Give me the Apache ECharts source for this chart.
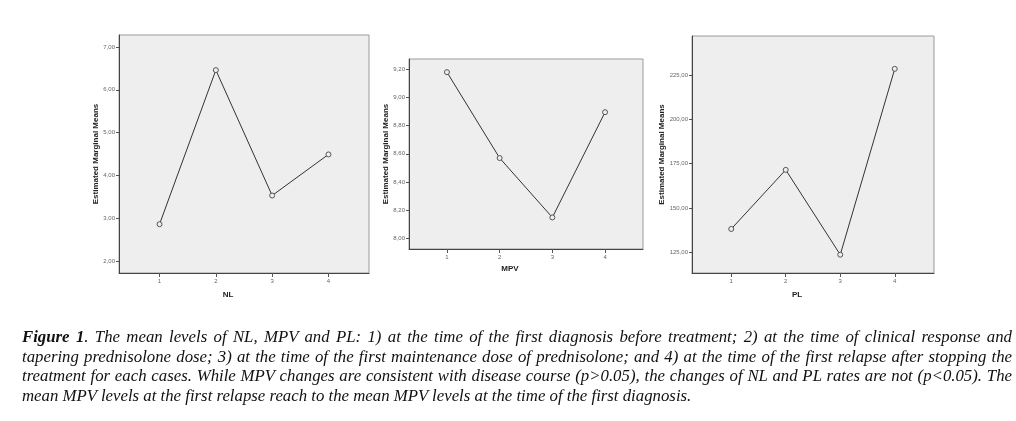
<!DOCTYPE html>
<html>
<head>
<meta charset="utf-8">
<script src="https://cdn.jsdelivr.net/npm/echarts@6/dist/echarts.min.js"></script>
<style>
  html, body { margin: 0; padding: 0; background: #fff; }
  #wrap { position: relative; width: 1016px; height: 421px; overflow: hidden; }
  #chart { position: absolute; left: 0; top: 0; width: 1016px; height: 421px; }
  #caption {
    position: absolute; left: 22px; top: 327px; width: 990px;
    font-family: "Liberation Serif", "DejaVu Serif", serif; font-style: italic;
    font-size: 16.8px; line-height: 19.7px; color: #111;
  }
  #caption .ln { white-space: nowrap; text-align: justify; text-align-last: justify; }
  #caption .last { white-space: nowrap; text-align: left; text-align-last: left; }
  #caption b { font-weight: bold; }
</style>
</head>
<body>
<div id="wrap">
  <div id="chart"></div>
  <div id="caption">
    <div class="ln"><b>Figure 1</b>. The mean levels of NL, MPV and PL: 1) at the time of the first diagnosis before treatment; 2) at the time of clinical response and</div>
    <div class="ln">tapering prednisolone dose; 3) at the time of the first maintenance dose of prednisolone; and 4) at the time of the first relapse after stopping the</div>
    <div class="ln">treatment for each cases. While MPV changes are consistent with disease course (p&gt;0.05), the changes of NL and PL rates are not (p&lt;0.05). The</div>
    <div class="last">mean MPV levels at the first relapse reach to the mean MPV levels at the time of the first diagnosis.</div>
  </div>
</div>
<script>
// ---- data ----
const categories = [1, 2, 3, 4];
const nlValues  = [2.86, 6.46, 3.53, 4.49];
const mpvValues = [9.177, 8.57, 8.15, 8.894];
const plValues  = [138.2, 171.5, 123.7, 228.4];
const nlTicks  = [2, 3, 4, 5, 6, 7];
const mpvTicks = [8.0, 8.2, 8.4, 8.6, 8.8, 9.0, 9.2];
const plTicks  = [125, 150, 175, 200, 225];
const panelNames = ['NL', 'MPV', 'PL'];
const yTitle = 'Estimated Marginal Means';

// ---- layout ----
const grids = [
  { left: 119, top: 35, width: 250, height: 238 },
  { left: 409, top: 59, width: 234, height: 190 },
  { left: 692, top: 36, width: 242, height: 237 }
];
const yRanges = [[1.72, 7.28], [7.927, 9.27], [113.4, 246.9]];
const yGaps = [18, 16, 24];
const xGaps = [18, 16, 18];
const tickSets = [nlTicks, mpvTicks, plTicks];
const valueSets = [nlValues, mpvValues, plValues];

const fmt = v => Number(v).toFixed(2).replace('.', ',');
const font = '"Liberation Sans", Arial, sans-serif';

const option = {
  animation: false,
  backgroundColor: 'transparent',
  grid: grids.map(g => Object.assign({
    show: true, backgroundColor: '#EEEEEE', borderColor: '#9a9a9a', borderWidth: 1,
    containLabel: false
  }, g)),
  xAxis: grids.map((g, i) => ({
    type: 'value', gridIndex: i, min: 0.28, max: 4.72,
    splitLine: { show: false },
    axisLine: { onZero: false, lineStyle: { color: '#444', width: 1 } },
    axisTick: { customValues: categories, length: 4, lineStyle: { color: '#555' } },
    axisLabel: { customValues: categories, margin: 5, fontSize: 6, color: '#666', fontFamily: font },
    name: panelNames[i], nameLocation: 'middle', nameGap: xGaps[i],
    nameTextStyle: { fontSize: 8, fontWeight: 'bold', color: '#222', fontFamily: font, padding: [0, 32, 0, 0] }
  })),
  yAxis: grids.map((g, i) => ({
    type: 'value', gridIndex: i, min: yRanges[i][0], max: yRanges[i][1],
    splitLine: { show: false },
    axisLine: { show: true, onZero: false, lineStyle: { color: '#444', width: 1 } },
    axisTick: { show: true, customValues: tickSets[i], length: 3, lineStyle: { color: '#555' } },
    axisLabel: { customValues: tickSets[i], margin: 4, fontSize: 6, color: '#666', fontFamily: font, formatter: fmt },
    name: yTitle, nameLocation: 'middle', nameGap: yGaps[i], nameRotate: 90,
    nameTextStyle: { fontSize: 8, fontWeight: 'bold', color: '#222', fontFamily: font }
  })),
  series: valueSets.map((vals, i) => ({
    type: 'line', xAxisIndex: i, yAxisIndex: i,
    data: categories.map((c, k) => [c, vals[k]]),
    symbol: 'circle', symbolSize: 5,
    lineStyle: { color: '#333', width: 1 },
    itemStyle: { color: '#EEEEEE', borderColor: '#555', borderWidth: 1 }
  }))
};

const chart = echarts.init(document.getElementById('chart'), null, { renderer: 'canvas' });
chart.setOption(option);
</script>
</body>
</html>
